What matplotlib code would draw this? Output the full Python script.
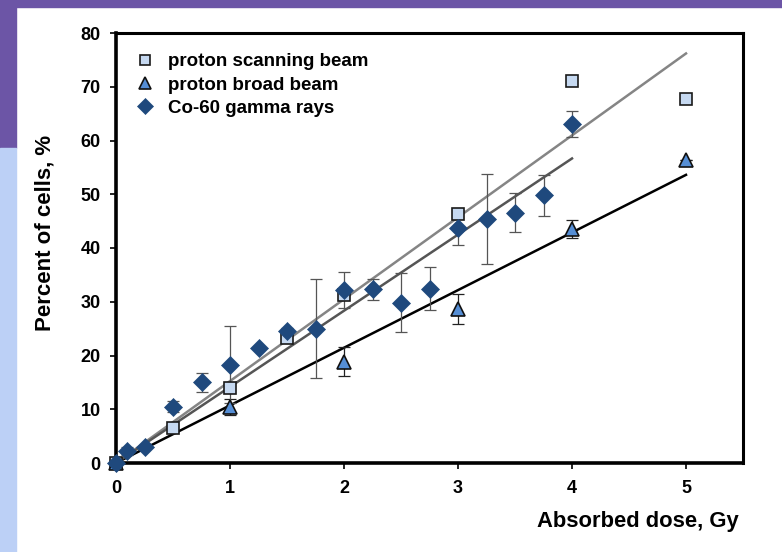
import matplotlib
matplotlib.use("Agg")
from matplotlib import pyplot as plt
from matplotlib.patches import Rectangle
import numpy as np

plt.rcParams['font.family'] = ['Liberation Sans', 'DejaVu Sans']

# proton scanning beam
scan_x = [0, 0.5, 1, 1.5, 2, 3, 4, 5]
scan_y = [0, 6.5, 14.0, 23.3, 31.3, 46.3, 71.0, 67.7]

# proton broad beam
broad_x = [0, 1, 2, 3, 4, 5]
broad_y = [0, 10.5, 18.8, 28.7, 43.5, 56.3]
broad_err = [0, 1.5, 2.7, 2.8, 1.7, 0]

# Co-60 gamma rays
co_x = [0, 0.1, 0.25, 0.5, 0.75, 1, 1.25, 1.5, 1.75, 2, 2.25, 2.5, 2.75, 3, 3.25, 3.5, 3.75, 4]
co_y = [0, 2.2, 2.9, 10.5, 15.0, 18.3, 21.4, 24.5, 25.0, 32.2, 32.3, 29.8, 32.4, 43.8, 45.4, 46.6, 49.8, 63.0]
co_err = [0, 0.7, 0, 1.0, 1.8, 7.2, 0, 0.6, 9.2, 3.3, 1.9, 5.5, 4.0, 3.3, 8.4, 3.6, 3.8, 2.4]

labels = ["proton scanning beam", "proton broad beam", "Co-60 gamma rays"]


def slope0(x, y):
    # linear trendline forced through the origin
    x = np.array(x)
    y = np.array(y)
    return (x * y).sum() / (x * x).sum()


W, H = 782, 552
fig = plt.figure(figsize=(W / 100, H / 100), dpi=100)
fig.patch.set_facecolor("white")

# slide background
purple = "#6c55a6"
fig.patches.append(Rectangle((0, 1 - 7 / H), 1, 7 / H, transform=fig.transFigure, color=purple, zorder=0))
fig.patches.append(Rectangle((0, 1 - 148 / H), 16 / W, 148 / H, transform=fig.transFigure, color=purple, zorder=0))
fig.patches.append(Rectangle((0, 0), 16 / W, 1 - 148 / H, transform=fig.transFigure, color="#bcd0f6", zorder=0))

ax = fig.add_axes([116 / W, 1 - 463 / H, (743 - 116) / W, (463 - 33) / H])
ax.set_facecolor("none")
ax.set_xlim(0, 5.5)
ax.set_ylim(0, 80)

# trendlines
for xs, ys, col, xmax in [(scan_x, scan_y, "#858585", 5),
                          (broad_x, broad_y, "#000000", 5),
                          (co_x, co_y, "#555555", 4)]:
    k = slope0(xs, ys)
    xx = np.array([0, xmax])
    ax.plot(xx, k * xx, color=col, lw=1.8, zorder=2, clip_on=False)

# error bars
ax.errorbar(broad_x, broad_y, yerr=broad_err, fmt="none", ecolor="#222222",
            elinewidth=0.9, capsize=4, capthick=0.9, zorder=3)
ax.errorbar(co_x, co_y, yerr=co_err, fmt="none", ecolor="#555555",
            elinewidth=0.9, capsize=4, capthick=0.9, zorder=3)

ax.plot(scan_x, scan_y, "s", ms=8.5, mfc="#c6d9f1", mec="#1a1a1a", mew=1.2,
        ls="none", label=labels[0], zorder=4, clip_on=False)
ax.plot(broad_x, broad_y, "^", ms=10.5, mfc="#558ed5", mec="#111111", mew=1.2,
        ls="none", label=labels[1], zorder=4, clip_on=False)
ax.plot(co_x, co_y, "D", ms=9.5, mfc="#1f497d", mec="#1f497d", mew=0.5,
        ls="none", label=labels[2], zorder=5, clip_on=False)

ax.set_xticks(range(0, 6))
ax.set_yticks(range(0, 81, 10))
ax.tick_params(axis="both", direction="out", length=4, width=1.2, labelsize=13, pad=7)
ax.tick_params(axis="x", pad=8)
for t in ax.get_xticklabels() + ax.get_yticklabels():
    t.set_fontweight("bold")

for s in ["left", "bottom"]:
    ax.spines[s].set_linewidth(2.6)
for s in ["top", "right"]:
    ax.spines[s].set_linewidth(2.2)

leg = ax.legend(loc="upper left", bbox_to_anchor=(0.004, 0.992), frameon=False,
                handlelength=1.0, handletextpad=0.75, labelspacing=0.32,
                prop={"weight": "bold", "size": 13.5}, markerscale=0.85)

fig.text(45 / W, 1 - 233 / H, "Percent of cells, %", rotation=90, ha="center", va="center",
         fontsize=16, fontweight="bold")
fig.text(739 / W, 1 - 521 / H, "Absorbed dose, Gy", ha="right", va="center",
         fontsize=15.8, fontweight="bold")

fig.savefig("out.png", dpi=100)
